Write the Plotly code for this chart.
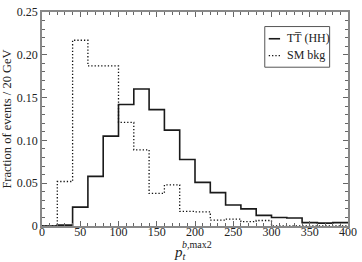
import plotly.graph_objects as go

bin_edges = list(range(0, 420, 20))
signal = [0.0, 0.001, 0.022, 0.058, 0.105, 0.142, 0.160, 0.136, 0.112, 0.0776,
          0.051, 0.039, 0.0245, 0.020, 0.0124, 0.010, 0.0094, 0.004, 0.0034, 0.004]
background = [0.0, 0.052, 0.217, 0.187, 0.187, 0.121, 0.089, 0.038, 0.048, 0.017,
              0.0166, 0.0068, 0.008, 0.005, 0.0064, 0.0, 0.0, 0.0, 0.0, 0.0]
series_names = ["TT\u0305 (HH)", "SM bkg"]
y_ticks = [0, 0.05, 0.10, 0.15, 0.20, 0.25]
y_tick_labels = ["0", "0.05", "0.10", "0.15", "0.20", "0.25"]
x_ticks = [0, 50, 100, 150, 200, 250, 300, 350, 400]

font = "Liberation Serif"
solid_style = dict(shape="hv", color="#1a1a1a", width=1.6)
dot_style = dict(shape="hv", color="#111111", width=1.3, dash="1.3px,2px")

fig = go.Figure()
fig.add_trace(go.Scatter(x=bin_edges, y=signal + [signal[-1]], mode="lines",
                         line=solid_style, name=series_names[0], showlegend=False))
fig.add_trace(go.Scatter(x=bin_edges, y=background + [background[-1]], mode="lines",
                         line=dot_style, name=series_names[1], showlegend=False))

axis_common = dict(showgrid=False, zeroline=False, showline=True, linecolor="#888888",
                   linewidth=1.5, mirror="ticks", ticks="inside", ticklen=5,
                   tickcolor="#666666", tickwidth=1,
                   tickfont=dict(family=font, size=12, color="#222222"))

# manual legend (box, samples, labels) in paper coordinates
shapes = [
    dict(type="rect", xref="paper", yref="paper", x0=0.728, x1=0.940, y0=0.742, y1=0.932,
         line=dict(color="#555555", width=1), fillcolor="white", layer="above"),
    dict(type="line", xref="paper", yref="paper", x0=0.741, x1=0.778, y0=0.875, y1=0.875,
         line=dict(color="#1a1a1a", width=1.6), layer="above"),
    dict(type="line", xref="paper", yref="paper", x0=0.741, x1=0.778, y0=0.796, y1=0.796,
         line=dict(color="#111111", width=1.3, dash="1.3px,2px"), layer="above"),
]
annotations = [
    dict(text=series_names[0], xref="paper", yref="paper", x=0.795, y=0.877,
         xanchor="left", yanchor="middle", showarrow=False,
         font=dict(family=font, size=12, color="#222222")),
    dict(text=series_names[1], xref="paper", yref="paper", x=0.795, y=0.798,
         xanchor="left", yanchor="middle", showarrow=False,
         font=dict(family=font, size=12, color="#222222")),
    # x-axis title p_t^{b,max2}
    dict(text="<i>p<sub>t</sub></i>", xref="paper", yref="paper", x=0.453, y=-0.125,
         xanchor="center", yanchor="middle", showarrow=False,
         font=dict(family=font, size=15, color="#222222")),
    dict(text="<i>b</i>,max2", xref="paper", yref="paper", x=0.505, y=-0.088,
         xanchor="center", yanchor="middle", showarrow=False,
         font=dict(family=font, size=10, color="#222222")),
]

fig.update_layout(
    width=362, height=262,
    margin=dict(l=37, r=9, t=5, b=36),
    paper_bgcolor="white", plot_bgcolor="white",
    font=dict(family=font, color="#222222"),
    xaxis=dict(range=[0, 400], tickvals=x_ticks, ticklabelstandoff=-6,
               minor=dict(ticks="inside", ticklen=3, dtick=10, tickcolor="#666666"),
               **axis_common),
    yaxis=dict(range=[0, 0.25], tickvals=y_ticks, ticktext=y_tick_labels,
               minor=dict(ticks="inside", ticklen=3, dtick=0.01, tickcolor="#666666"),
               title=dict(text="Fraction of events / 20 GeV",
                          font=dict(family=font, size=12.5), standoff=3),
               **axis_common),
    shapes=shapes,
    annotations=annotations,
    showlegend=False,
)
fig.write_html("out.html", config={"displayModeBar": False},
               post_script="document.body.style.margin='0';document.body.style.overflow='hidden';")
